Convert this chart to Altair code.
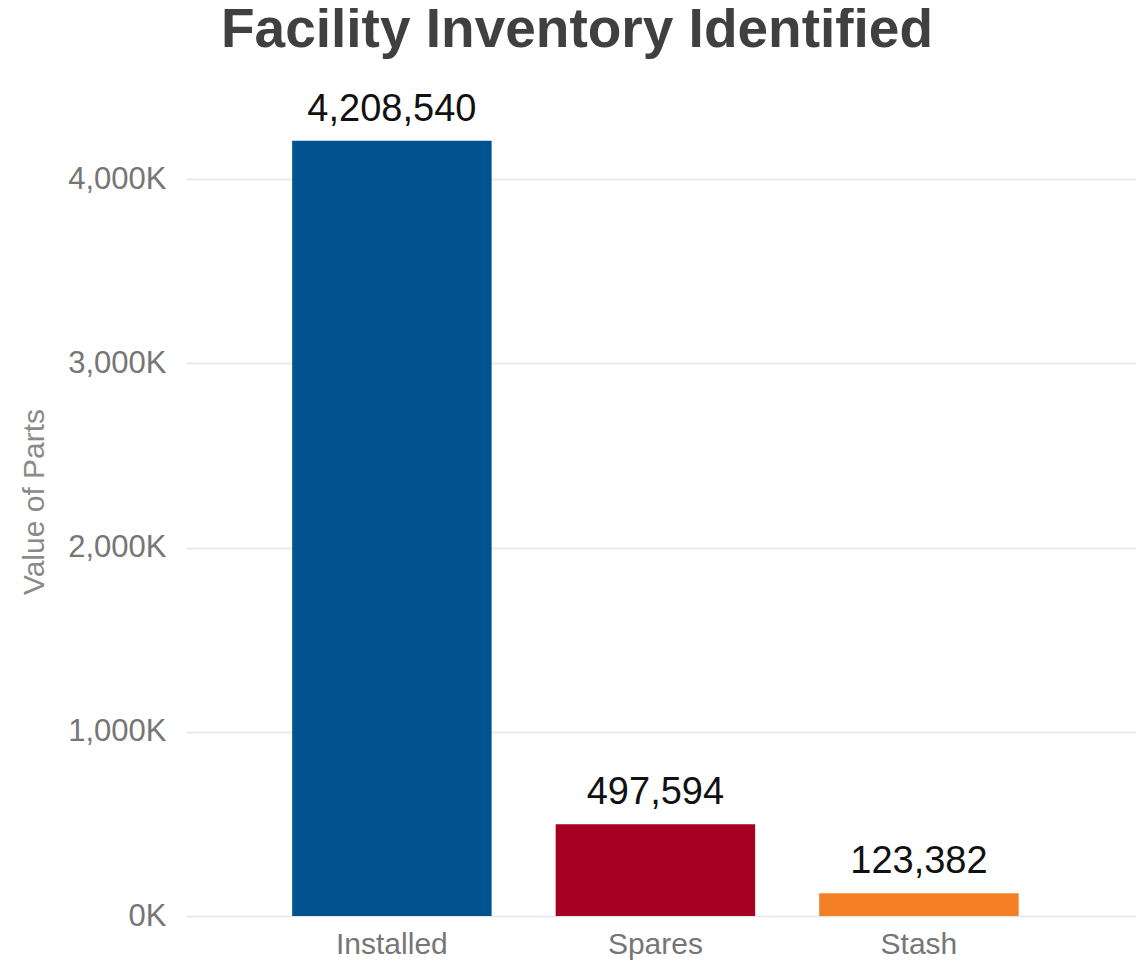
import altair as alt
import pandas as pd

categories = ["Installed", "Spares", "Stash"]
values = [4208540, 497594, 123382]
colors = ["#00538F", "#A50021", "#F47F24"]
tick_values = [0, 1000000, 2000000, 3000000, 4000000]

df = pd.DataFrame({"category": categories, "value": values, "color": colors})

FONT = "Liberation Sans, Arial, Helvetica, sans-serif"

base = alt.Chart(df).encode(
    x=alt.X(
        "category:N",
        sort=categories,
        scale=alt.Scale(paddingInner=0.243, paddingOuter=0.424, align=0.475),
        axis=alt.Axis(
            title=None, labelAngle=0, labelFontSize=30, labelColor="#767676",
            labelFont=FONT, ticks=False, tickSize=0, domain=False, labelPadding=13,
            grid=False,
        ),
    ),
    y=alt.Y(
        "value:Q",
        scale=alt.Scale(domain=[0, 4500000], nice=False),
        axis=alt.Axis(
            title="Value of Parts", values=tick_values,
            labelExpr="format(datum.value / 1000, ',') + 'K'",
            labelFontSize=31, labelColor="#767676", labelFont=FONT,
            labelPadding=20, ticks=False, tickSize=0, domain=False,
            titleFontSize=30, titleColor="#8a8a8a", titleFont=FONT,
            titleFontWeight="normal", titleAngle=270, titleBaseline="middle",
            titleAlign="center", titleX=-152,
            grid=True, gridColor="#e6e6e6", gridWidth=1.5,
        ),
    ),
)

bars = base.mark_bar().encode(
    color=alt.Color("color:N", scale=None, legend=None)
)

labels = base.mark_text(
    baseline="alphabetic", dy=-20, fontSize=38, font=FONT, color="#111111"
).encode(text=alt.Text("value:Q", format=","))

chart = (
    (bars + labels)
    .properties(
        width=950,
        height=829,
        autosize=alt.AutoSizeParams(type="none"),
        padding={"left": 178, "top": 79, "right": 1, "bottom": 50},
        title=alt.TitleParams(
            "Facility Inventory Identified",
            anchor="middle", fontSize=55, font=FONT, fontWeight="bold",
            color="#404040", offset=28, dx=-84,
        ),
        background="white",
    )
    .configure_view(stroke=None)
)

chart.save("out.html", embed_options={"renderer": "svg", "actions": False})
